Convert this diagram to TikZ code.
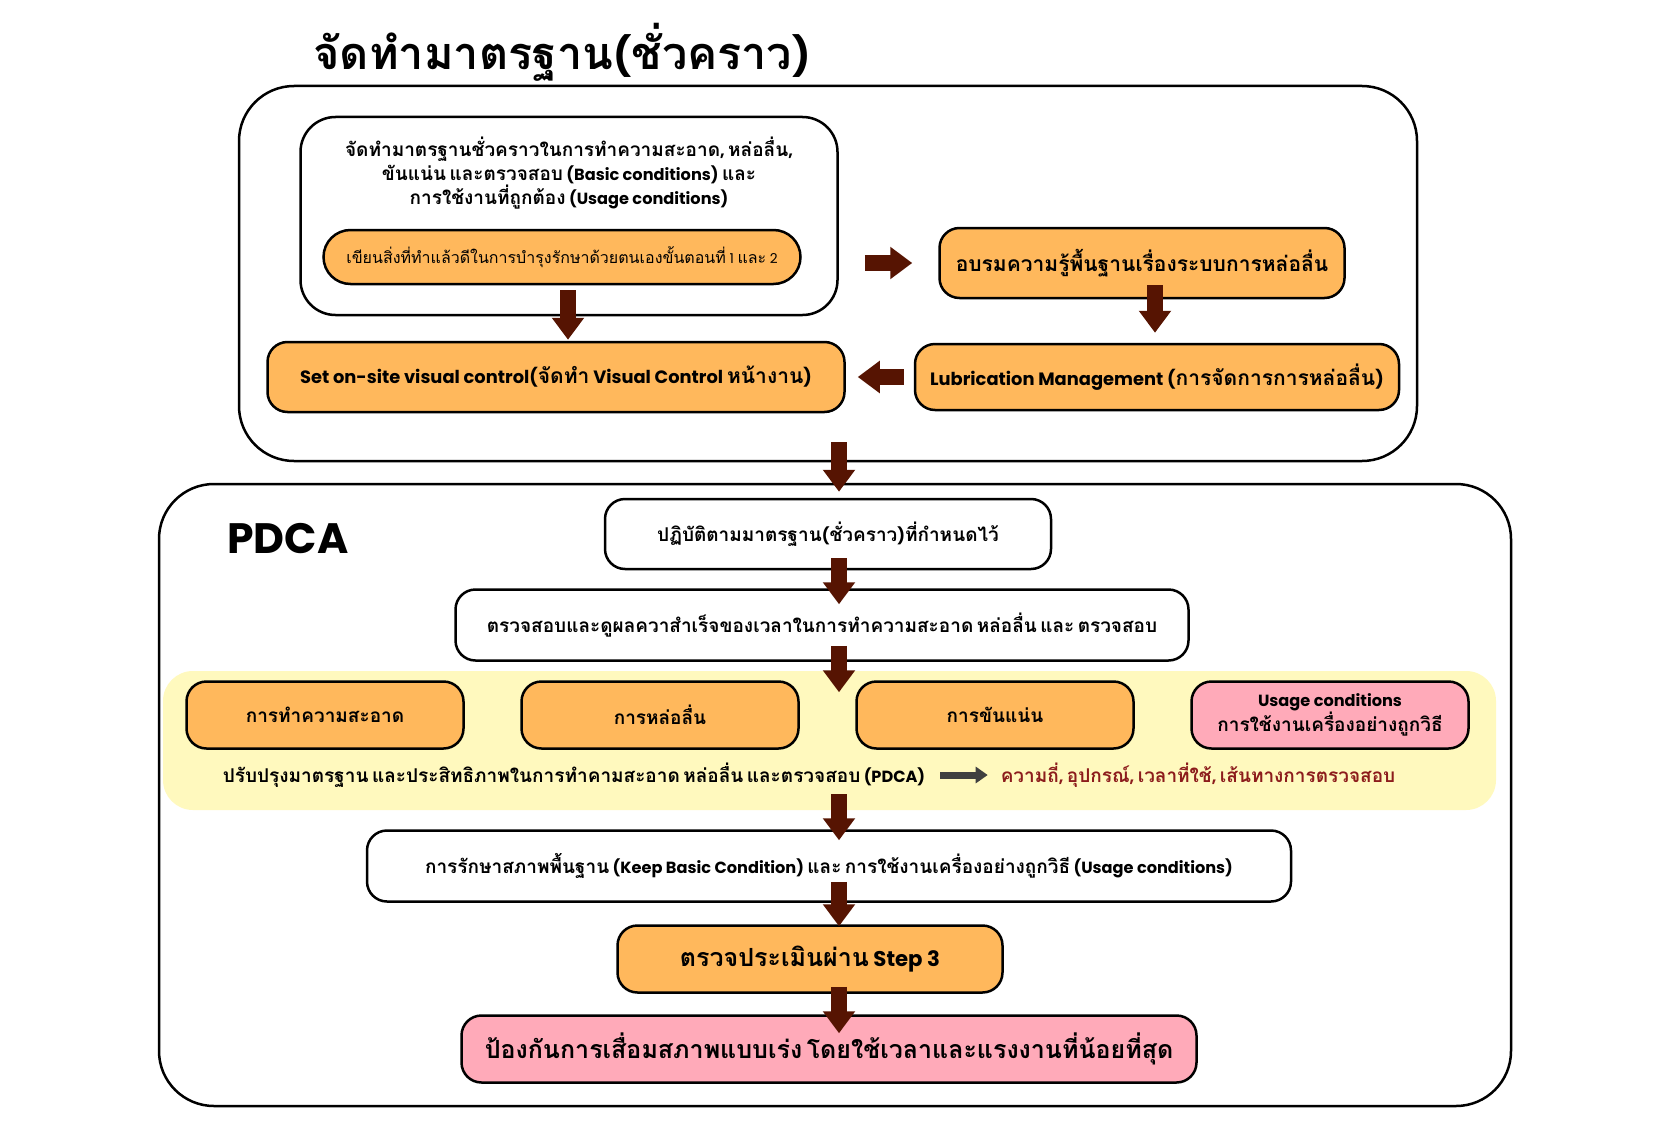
\documentclass[tikz,border=0pt]{standalone}
\usepackage{fontspec}
\setmainfont{Poppins}[Scale=0.85]
\newfontfamily\thaifont[Script=Thai]{Loma}
% Thai letters switch to the Thai font by themselves
\XeTeXinterchartokenstate=1
\newXeTeXintercharclass\thaichars
\count255="0E00
\loop \XeTeXcharclass\count255=\thaichars \ifnum\count255<"0E7F \advance\count255 by 1 \repeat
\XeTeXinterchartoks 0 \thaichars = {\begingroup\thaifont}
\XeTeXinterchartoks 4095 \thaichars = {\begingroup\thaifont}
\XeTeXinterchartoks \thaichars 0 = {\endgroup}
\XeTeXinterchartoks \thaichars 4095 = {\endgroup}
\usepackage{tikz}
\usetikzlibrary{arrows.meta, positioning, calc}
\definecolor{boxorange}{RGB}{255, 184, 92}
\definecolor{boxpink}{RGB}{255, 170, 185}
\definecolor{bandyellow}{RGB}{255, 249, 190}
\definecolor{arrowbrown}{RGB}{86, 20, 2}
\definecolor{notered}{RGB}{140, 28, 28}
\definecolor{notegray}{RGB}{64, 64, 64}
\tikzset{
  framebox/.style={draw=black, line width=2.5pt, rounded corners=55pt},
  whitebox/.style={draw=black, line width=2.5pt, fill=white, rounded corners=20pt, align=center, font=\fontsize{19}{24}\selectfont\bfseries},
  orangebox/.style={whitebox, fill=boxorange},
  pinkbox/.style={whitebox, fill=boxpink},
  blockarrow/.style={draw=arrowbrown, line width=16pt, -{Triangle[width=31pt,length=22pt]}},
  grayarrow/.style={draw=notegray, line width=7pt, -{Triangle[width=16pt,length=12pt]}}
}

\begin{document}
\begin{tikzpicture}[x=1pt, y=-1pt]
  \useasboundingbox (0,0) rectangle (1680,1121);
  \fill[white] (0,0) rectangle (1680,1121);

  % upper part
  \node[font=\fontsize{45}{50}\selectfont\bfseries] (title) at (562,52) {จัดทำมาตรฐาน(ชั่วคราว)};
  \draw[framebox] (239,86) rectangle (1417,461);
  \coordinate (topframe) at (839,461);

  \node[whitebox, minimum width=537pt, minimum height=198pt, rounded corners=35pt] (stdbox) at (569,216) {};
  \node[font=\fontsize{19}{24}\selectfont\bfseries, align=center] (stdtext) at (569,173)
    {จัดทำมาตรฐานชั่วคราวในการทำความสะอาด, หล่อลื่น,\\
     ขันแน่น และตรวจสอบ (Basic conditions) และ\\
     การใช้งานที่ถูกต้อง (Usage conditions)};
  \node[orangebox, minimum width=477pt, minimum height=54pt, rounded corners=27pt, font=\fontsize{16}{20}\selectfont] (writebox) at (562,257)
    {เขียนสิ่งที่ทำแล้วดีในการบำรุงรักษาด้วยตนเองขั้นตอนที่ 1 และ 2};
  \node[orangebox, minimum width=577pt, minimum height=70pt, font=\fontsize{21}{26}\selectfont\bfseries] (visualbox) at (556,377)
    {Set on-site visual control(จัดทำ Visual Control หน้างาน)};
  \node[orangebox, minimum width=405pt, minimum height=70pt, font=\fontsize{21}{26}\selectfont\bfseries] (trainbox) at (1142,263)
    {อบรมความรู้พื้นฐานเรื่องระบบการหล่อลื่น};
  \node[orangebox, minimum width=484pt, minimum height=66pt, font=\fontsize{21}{26}\selectfont\bfseries] (lubebox) at (1157,377)
    {Lubrication Management (การจัดการการหล่อลื่น)};

  \draw[blockarrow] ([xshift=26pt]stdbox.east |- trainbox) -- ([xshift=-26pt]trainbox.west);
  \draw[blockarrow] ([xshift=6pt, yshift=-5pt]writebox.south) -- ([xshift=12pt, yshift=1pt]visualbox.north);
  \draw[blockarrow] ([xshift=13pt, yshift=14pt]trainbox.south) -- ([xshift=-2pt, yshift=10pt]lubebox.north);
  \draw[blockarrow] ([xshift=-10pt]lubebox.west) -- ([xshift=12pt]visualbox.east);

  % PDCA part
  \draw[framebox] (159,484) rectangle (1511,1106);
  \node[font=\fontsize{50}{55}\selectfont\bfseries] (pdca) at (288,539) {PDCA};

  \node[whitebox, minimum width=446pt, minimum height=70pt] (dobox) at (828,534)
    {ปฏิบัติตามมาตรฐาน(ชั่วคราว)ที่กำหนดไว้};
  \node[whitebox, minimum width=733pt, minimum height=71pt] (checkbox) at (822,625)
    {ตรวจสอบและดูผลควาสำเร็จของเวลาในการทำความสะอาด หล่อลื่น และ ตรวจสอบ};

  \fill[bandyellow, rounded corners=30pt] (163,671) rectangle (1496,810);
  \coordinate (band) at (839,810);
  \node[orangebox, minimum width=277pt, minimum height=67pt] (cleanbox) at (325,715) {การทำความสะอาด};
  \node[orangebox, minimum width=277pt, minimum height=67pt] (oilbox) at (660,715) {การหล่อลื่น};
  \node[orangebox, minimum width=277pt, minimum height=67pt] (tightbox) at (995,715) {การขันแน่น};
  \node[pinkbox, minimum width=277pt, minimum height=67pt, font=\fontsize{19}{23}\selectfont\bfseries] (usagebox) at (1330,715)
    {Usage conditions\\การใช้งานเครื่องอย่างถูกวิธี};
  \node[font=\fontsize{19}{24}\selectfont\bfseries] (improve) at (574,775)
    {ปรับปรุงมาตรฐาน และประสิทธิภาพในการทำคามสะอาด หล่อลื่น และตรวจสอบ (PDCA)};
  \node[font=\fontsize{19}{24}\selectfont\bfseries, text=notered] (factors) at (1198,775)
    {ความถี่, อุปกรณ์, เวลาที่ใช้, เส้นทางการตรวจสอบ};
  \draw[grayarrow, shorten <=12pt, shorten >=10pt] (improve.east) -- (factors.west);

  \node[whitebox, minimum width=924pt, minimum height=71pt] (keepbox) at (829,866)
    {การรักษาสภาพพื้นฐาน (Keep Basic Condition) และ การใช้งานเครื่องอย่างถูกวิธี (Usage conditions)};
  \node[orangebox, minimum width=385pt, minimum height=67pt, font=\fontsize{25}{30}\selectfont\bfseries] (step3box) at (810,959)
    {ตรวจประเมินผ่าน Step 3};
  \node[pinkbox, minimum width=735pt, minimum height=67pt, font=\fontsize{25}{30}\selectfont\bfseries] (preventbox) at (829,1049)
    {ป้องกันการเสื่อมสภาพแบบเร่ง โดยใช้เวลาและแรงงานที่น้อยที่สุด};

  % spine of arrows
  \coordinate (spine) at (839,0);
  \draw[blockarrow] ([yshift=19pt]topframe) -- ([yshift=6pt]dobox.north -| spine);
  \draw[blockarrow] ([yshift=12pt]dobox.south -| spine) -- ([yshift=-16pt]checkbox.north -| spine);
  \draw[blockarrow] ([yshift=16pt]checkbox.south -| spine) -- ([yshift=-12pt]cleanbox.north -| spine);
  \draw[blockarrow] ([yshift=16pt]band -| spine) -- ([yshift=-11pt]keepbox.north -| spine);
  \draw[blockarrow] ([yshift=21pt]keepbox.south -| spine) -- ([yshift=-2pt]step3box.north -| spine);
  \draw[blockarrow] ([yshift=7pt]step3box.south -| spine) -- ([yshift=-19pt]preventbox.north -| spine);
\end{tikzpicture}
\end{document}
